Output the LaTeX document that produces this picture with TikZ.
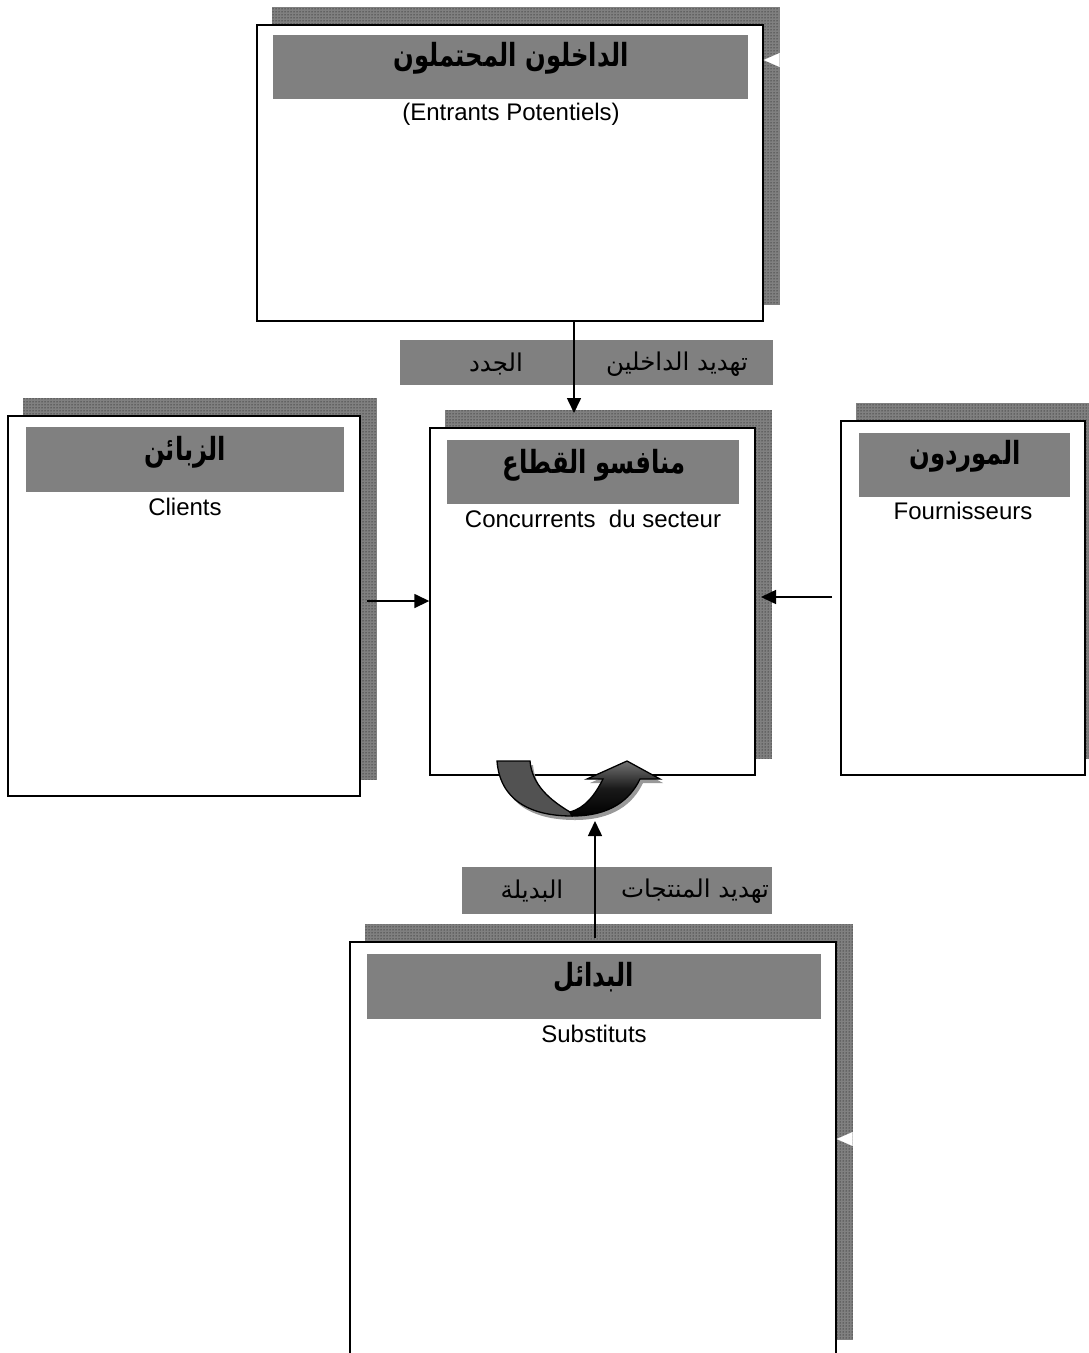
\documentclass[tikz,border=0pt]{standalone}
\usepackage{fontspec}
\setmainfont{Liberation Sans}
\newfontfamily\arabicfont[Script=Arabic]{DejaVu Sans}
\TeXXeTstate=1
\usetikzlibrary{arrows.meta,patterns}
\definecolor{shadowc}{RGB}{128,128,128}
\definecolor{barc}{RGB}{128,128,128}
\pgfdeclarelayer{bg}
\pgfdeclarelayer{paper}
\pgfsetlayers{paper,bg,main}
\tikzset{
  box/.style={draw=black, line width=1.4pt, fill=white, inner sep=0pt},
  shad/.style={fill=shadowc, postaction={pattern=dots, pattern color=black}},
  titlebar/.style={fill=barc, draw=none, inner sep=0pt},
  artitle/.style={inner sep=0pt, font=\arabicfont\bfseries\fontsize{27}{30}\selectfont},
  arlabel/.style={inner sep=0pt, font=\arabicfont\fontsize{24.5}{28}\selectfont},
  latin/.style={inner sep=0pt, font=\fontsize{24}{28}\selectfont},
  arr/.style={line width=1.6pt, -{Triangle[length=15pt,width=14pt]}},
  warr/.style={white, line width=0.1pt, -{Triangle[length=16pt,width=14pt]}}
}
\newcommand{\artt}[1]{\scalebox{0.9}[1.18]{\beginR #1\endR}}
\begin{document}
\begin{tikzpicture}[x=1pt,y=-1pt]
\useasboundingbox (0,0) rectangle (1089,1353);
\clip (0,0) rectangle (1089,1353);
\begin{pgfonlayer}{paper}
\fill[white] (0,0) rectangle (1089,1353);
\end{pgfonlayer}

% boxes
\node[box, minimum width=506pt, minimum height=296pt] (entr) at (510,173) {};
\node[box, minimum width=325pt, minimum height=347pt] (conc) at (592.5,601.5) {};
\node[box, minimum width=352pt, minimum height=380pt] (cli) at (184,606) {};
\node[box, minimum width=244pt, minimum height=354pt] (four) at (963,598) {};
\node[box, minimum width=486pt, minimum height=414pt] (subst) at (593,1149) {};

\begin{pgfonlayer}{bg}
\foreach \n in {entr,conc,cli,four,subst}
  \fill[shad] ([shift={(16,-17)}]\n.south west) rectangle ([shift={(16,-17)}]\n.north east);
\end{pgfonlayer}

% title bars
\node[titlebar, minimum width=475pt, minimum height=64pt] (entrbar) at (510.5,67) {};
\node[titlebar, minimum width=292pt, minimum height=64pt] (concbar) at (593,472) {};
\node[titlebar, minimum width=318pt, minimum height=65pt] (clibar) at (185,459.5) {};
\node[titlebar, minimum width=211pt, minimum height=64pt] (fourbar) at (964.5,465) {};
\node[titlebar, minimum width=454pt, minimum height=65pt] (substbar) at (594,986.5) {};

% titles
\node[artitle] (entrt) at (511,58) {\artt{الداخلون المحتملون}};
\node[artitle] (conct) at (594,465) {\artt{منافسو القطاع}};
\node[artitle] (clit) at (185,452) {\artt{الزبائن}};
\node[artitle] (fourt) at (965,456) {\artt{الموردون}};
\node[artitle] (substt) at (594,977) {\artt{البدائل}};

% latin subtitles
\node[latin] (entrs) at (511,114) {(Entrants Potentiels)};
\node[latin] (concs) at (593,519) {Concurrents\ \ du secteur};
\node[latin] (clis) at (185,507) {Clients};
\node[latin] (fours) at (963,511) {Fournisseurs};
\node[latin] (substs) at (594,1034) {Substituts};

% threat label bars
\node[titlebar, minimum width=373pt, minimum height=45pt] (tbar1) at (586.5,362.5) {};
\node[arlabel] (t1a) at (677,364) {\beginR تهديد الداخلين\endR};
\node[arlabel] (t1b) at (496,364) {\beginR الجدد\endR};
\node[titlebar, minimum width=310pt, minimum height=47pt] (tbar2) at (617,890.5) {};
\node[arlabel] (t2a) at (695,891) {\beginR تهديد المنتجات\endR};
\node[arlabel] (t2b) at (532,891) {\beginR البديلة\endR};

% connectors
\coordinate (topin) at (574,413);
\draw[arr] (entr.south -| topin) -- (topin);
\coordinate (cliout) at (367,601);
\draw[arr] (cliout) -- (conc.west |- cliout);
\coordinate (fourout) at (832,597);
\coordinate (fourin) at (761,597);
\draw[arr] (fourout) -- (fourin);
\coordinate (subin) at (595,821);
\draw[arr] (subst.north -| subin) ++(0,-3) -- (subin);

% small white arrows on shadows
\coordinate (w1) at (795,60);
\draw[warr] (w1) -- (entr.east |- w1);
\coordinate (w2) at (865,1139);
\draw[warr] (w2) -- (subst.east |- w2);

% curved rivalry arrow
\begin{scope}[shift={(3,4)}]
\fill[black!40] (497,761) .. controls (500,800) and (530,816) .. (572,816) -- (570,812)
  .. controls (550,800) and (532,785) .. (530,761) -- cycle;
\fill[black!40] (572,816) .. controls (610,816) and (630,800) .. (640,779) -- (660,779) -- (627,761) -- (587,779) -- (603,779)
  .. controls (595,795) and (585,808) .. (570,812) -- cycle;
\end{scope}
\draw[line width=1.3pt, fill=black!68] (497,761) .. controls (500,800) and (530,816) .. (572,816) -- (570,812)
  .. controls (550,800) and (532,785) .. (530,761) -- cycle;
\draw[line width=1.3pt, top color=black!55, bottom color=black, middle color=black!90]
  (572,816) .. controls (610,816) and (630,800) .. (640,779) -- (660,779) -- (627,761) -- (587,779) -- (603,779)
  .. controls (595,795) and (585,808) .. (570,812) -- cycle;
\end{tikzpicture}
\end{document}
